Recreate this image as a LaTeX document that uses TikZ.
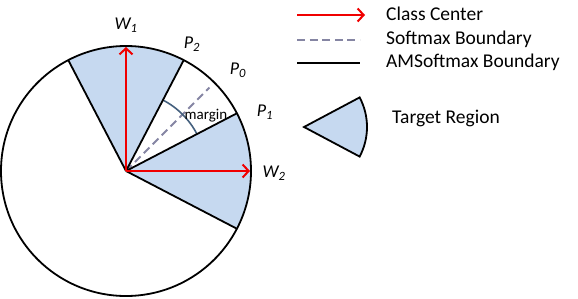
\documentclass[tikz,border=0pt]{standalone}
\usepackage{fontspec}
\setmainfont{Carlito}
\usetikzlibrary{arrows.meta}
\definecolor{regfill}{HTML}{C6D9F0}
\definecolor{dashcol}{HTML}{8585A3}
\definecolor{arccol}{HTML}{44607E}
\definecolor{arrred}{HTML}{F00000}
\begin{document}
\begin{tikzpicture}[x=1pt,y=1pt,
  bnd/.style={line width=1.8pt, draw=black},
  ccarrow/.style={line width=2.2pt, arrred, -{Straight Barb[length=6pt,width=13pt,line width=2pt]}},
  dsh/.style={line width=1.8pt, dashcol, dash pattern=on 8pt off 4.6pt},
  marc/.style={line width=1.6pt, arccol},
  lbl/.style={font=\fontsize{18}{18}\selectfont\itshape, inner sep=0pt},
  leg/.style={font=\fontsize{19.5}{19.5}\selectfont, anchor=west, inner sep=0pt},
  region/.style={fill=regfill}]
\useasboundingbox (0,0) rectangle (578,-298);
\coordinate (O) at (126,-171);
% target regions
\fill[region] (O) -- ++(62.5:125) arc[start angle=62.5,end angle=117.5,radius=125] -- cycle;
\fill[region] (O) -- ++(-27.5:125) arc[start angle=-27.5,end angle=27.5,radius=125] -- cycle;
% softmax boundary and margin
\path (O) ++(45:118) coordinate (P0e);
\draw[dsh] (O) -- (P0e);
\path (O) ++(62.5:80) coordinate (m1);
\draw[marc] (m1) arc[start angle=62.5,end angle=27.5,radius=80];
% AMSoftmax boundaries
\path (O) ++(62.5:125) coordinate (P2e);
\path (O) ++(27.5:125) coordinate (P1e);
\path (O) ++(117.5:125) coordinate (Q1e);
\path (O) ++(-27.5:125) coordinate (Q2e);
\draw[bnd] (O) -- (P2e);
\draw[bnd] (O) -- (P1e);
\draw[bnd] (O) -- (Q1e);
\draw[bnd] (O) -- (Q2e);
\draw[bnd] (O) circle[radius=125];
% class centers
\path (O) ++(90:124) coordinate (W1e);
\path (O) ++(0:124) coordinate (W2e);
\draw[ccarrow] (O) -- (W1e);
\draw[ccarrow] (O) -- (W2e);
% labels
\node[lbl] (w1) at (126,-25) {W\textsubscript{1}};
\node[lbl] (w2) at (274,-173) {W\textsubscript{2}};
\node[lbl] (p2) at (192,-44) {P\textsubscript{2}};
\node[lbl] (p0) at (238,-70) {P\textsubscript{0}};
\node[lbl] (p1) at (265,-112) {P\textsubscript{1}};
\node[font=\fontsize{15}{15}\selectfont, inner sep=0pt] (mg) at (206,-116) {margin};
% legend
\coordinate (l1a) at (297,-15); \coordinate (l1b) at (365,-15);
\coordinate (l2a) at (297,-40); \coordinate (l2b) at (360,-40);
\coordinate (l3a) at (297,-63); \coordinate (l3b) at (360,-63);
\draw[ccarrow] (l1a) -- (l1b);
\draw[dsh] (l2a) -- (l2b);
\draw[bnd] (l3a) -- (l3b);
\node[leg] (t1) at (386,-14) {Class Center};
\node[leg] (t2) at (386,-39) {Softmax Boundary};
\node[leg] (t3) at (386,-62) {AMSoftmax Boundary};
\coordinate (ic) at (304,-127);
\filldraw[region, bnd] (ic) -- ++(28:63) arc[start angle=28,end angle=-28,radius=63] -- cycle;
\node[leg] (t4) at (392,-118) {Target Region};
\end{tikzpicture}
\end{document}
